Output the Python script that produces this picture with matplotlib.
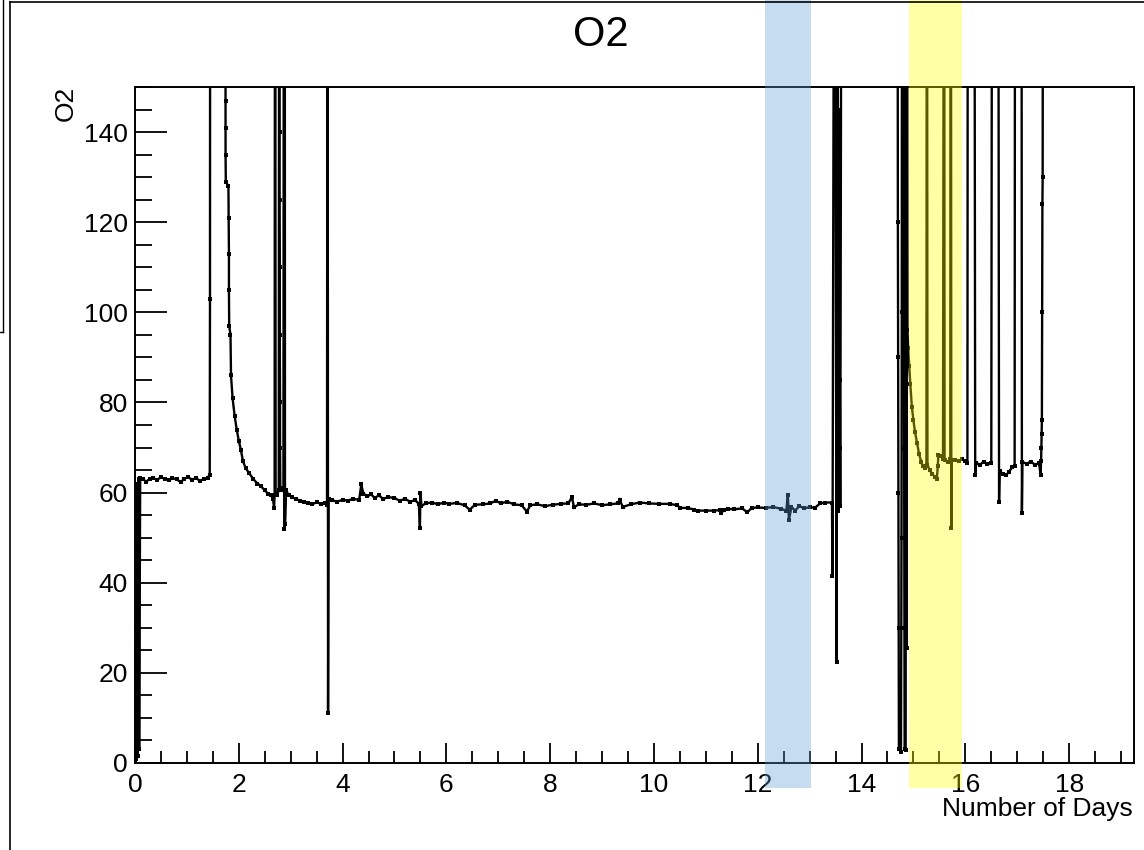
import matplotlib
matplotlib.use("Agg")
import matplotlib.pyplot as plt
from matplotlib.lines import Line2D
from matplotlib.patches import Rectangle
from matplotlib.transforms import blended_transform_factory
from matplotlib.ticker import MultipleLocator

plt.rcParams['font.family'] = ['Liberation Sans', 'DejaVu Sans']

# O2 readings (days since start, O2). Values of 250 are off the top of the scale.
startup = [
    (0.00, 0.5), (0.02, 0.8), (0.04, 62.0), (0.05, 1.5), (0.07, 63.0), (0.08, 3.0),
    (0.10, 63.2), (0.15, 63.0), (0.22, 62.4), (0.28, 63.1), (0.35, 63.3), (0.42, 62.8),
    (0.50, 63.4), (0.58, 63.0), (0.65, 62.7), (0.72, 63.2), (0.80, 63.0), (0.88, 62.3),
    (0.95, 63.1), (1.02, 63.4), (1.10, 62.9), (1.18, 63.2), (1.25, 62.6), (1.32, 63.0),
    (1.40, 63.3), (1.44, 64.0), (1.445, 103.0), (1.45, 250),
]
first_recovery = [
    (1.60, 250), (1.74, 250), (1.745, 147), (1.745, 141), (1.745, 135), (1.75, 129),
    (1.80, 128), (1.805, 121), (1.81, 113), (1.81, 105), (1.815, 97), (1.84, 95),
    (1.85, 86), (1.88, 81), (1.92, 77), (1.96, 74), (2.00, 71.5), (2.04, 69.5),
    (2.08, 67.0), (2.13, 65.5), (2.20, 64.3), (2.28, 63.0), (2.36, 62.0), (2.42, 61.5),
    (2.50, 60.5), (2.56, 59.8), (2.62, 59.5), (2.66, 58.5), (2.68, 56.5), (2.69, 59.5),
    (2.70, 250), (2.71, 60.0), (2.74, 59.5), (2.77, 60.5), (2.78, 250), (2.785, 140),
    (2.785, 125), (2.79, 110), (2.79, 95), (2.795, 80), (2.795, 70), (2.80, 61.0),
    (2.84, 60.5), (2.86, 61.0), (2.87, 250), (2.88, 52.0), (2.885, 250), (2.89, 53.0),
    (2.91, 60.5), (2.96, 59.5), (3.02, 59.0), (3.10, 58.6), (3.18, 58.2), (3.26, 58.0),
    (3.34, 57.6), (3.42, 57.4), (3.50, 57.9), (3.58, 57.5), (3.66, 57.8), (3.70, 57.2),
    (3.71, 250), (3.72, 11.0), (3.73, 58.5),
]
long_run = [
    (3.80, 58.3), (3.90, 58.0), (4.00, 58.4), (4.10, 58.2), (4.20, 58.6), (4.32, 58.4),
    (4.36, 61.8), (4.40, 59.8), (4.48, 59.2), (4.55, 59.6), (4.62, 58.8), (4.70, 59.4),
    (4.78, 58.6), (4.88, 59.0), (5.00, 58.8), (5.10, 58.2), (5.20, 58.6), (5.30, 58.0),
    (5.40, 58.3), (5.47, 57.5), (5.49, 52.2), (5.50, 60.0), (5.52, 57.0), (5.60, 57.6),
    (5.72, 57.8), (5.84, 57.4), (5.95, 57.8), (6.05, 57.5), (6.20, 57.7), (6.35, 57.2),
    (6.45, 56.2), (6.55, 57.3), (6.70, 57.4), (6.85, 57.6), (6.95, 58.2), (7.05, 57.6),
    (7.17, 58.0), (7.30, 57.4), (7.45, 57.2), (7.55, 55.8), (7.62, 57.2), (7.75, 57.4),
    (7.90, 57.0), (8.05, 57.3), (8.20, 57.5), (8.35, 57.6), (8.42, 59.0), (8.46, 56.7),
    (8.55, 57.4), (8.70, 57.3), (8.85, 57.6), (9.00, 57.2), (9.15, 57.4), (9.30, 57.6),
    (9.34, 58.4), (9.40, 56.8), (9.55, 57.4), (9.73, 57.8), (9.90, 57.6), (10.10, 57.5),
    (10.30, 57.5), (10.45, 57.2), (10.50, 56.6), (10.65, 56.6), (10.78, 56.2), (10.85, 56.0),
    (11.00, 56.0), (11.15, 56.0), (11.27, 56.1), (11.30, 55.5), (11.35, 56.2), (11.42, 56.4),
    (11.55, 56.3), (11.70, 56.5), (11.80, 55.6), (11.88, 56.6), (12.00, 56.7), (12.15, 56.6),
    (12.30, 56.8), (12.45, 56.4), (12.55, 56.0), (12.58, 59.5), (12.60, 54.0), (12.65, 56.8),
    (12.72, 56.0), (12.80, 57.0), (12.90, 56.5), (13.00, 56.8), (13.10, 56.6), (13.20, 57.6),
    (13.30, 57.8), (13.43, 57.8),
]
interruption = [
    (13.44, 41.4), (13.48, 250), (13.52, 22.4), (13.53, 250), (13.555, 56.0), (13.56, 145),
    (13.565, 130), (13.57, 115), (13.575, 100), (13.58, 85), (13.585, 70), (13.59, 57.0),
    (13.62, 250), (14.00, 250), (14.50, 250), (14.69, 250), (14.70, 120), (14.705, 90),
    (14.71, 60), (14.715, 30), (14.72, 3.0), (14.76, 2.5), (14.77, 50), (14.775, 100),
    (14.78, 250), (14.81, 250), (14.815, 110), (14.82, 70), (14.825, 30), (14.83, 3.0),
    (14.85, 2.8), (14.86, 250), (14.87, 25.5), (14.875, 250),
]
second_recovery = [
    (14.885, 96.0), (14.90, 92.0), (14.92, 88.0), (14.94, 84.0), (14.97, 79.0), (15.00, 76.0),
    (15.03, 73.5), (15.07, 71.0), (15.11, 68.5), (15.15, 66.8), (15.18, 65.8), (15.22, 65.5),
    (15.25, 66.0), (15.26, 250), (15.27, 66.2), (15.31, 65.0), (15.36, 64.2), (15.41, 63.5),
    (15.45, 63.0), (15.47, 66.0), (15.48, 68.3), (15.53, 68.2), (15.57, 67.5), (15.59, 250),
    (15.60, 67.2), (15.66, 66.8), (15.71, 67.5), (15.72, 250), (15.73, 52.2), (15.74, 67.2),
    (15.80, 67.3), (15.87, 67.0), (15.94, 67.4), (16.00, 67.0), (16.04, 66.5), (16.05, 250),
    (16.17, 250), (16.19, 64.0), (16.21, 66.6), (16.28, 66.2), (16.35, 66.8), (16.42, 66.4),
    (16.50, 66.6), (16.52, 250), (16.63, 250), (16.65, 58.0), (16.66, 64.8), (16.72, 64.2),
    (16.78, 63.8), (16.84, 64.6), (16.90, 65.6), (16.95, 66.0), (16.96, 250), (17.08, 250),
    (17.09, 55.5), (17.10, 66.8), (17.18, 66.4), (17.26, 66.9), (17.34, 66.2), (17.42, 66.5),
    (17.45, 64.0), (17.46, 67.0), (17.465, 70.0), (17.47, 73.0), (17.475, 76.0), (17.48, 100),
    (17.485, 124), (17.49, 130), (17.50, 250),
]

# highlighted day ranges
blue_span = (12.14, 13.02)
yellow_span = (14.91, 15.93)

x_ticks = [0, 2, 4, 6, 8, 10, 12, 14, 16, 18]
y_ticks = [0, 20, 40, 60, 80, 100, 120, 140]

series = startup + first_recovery + long_run + interruption + second_recovery
days = [p[0] for p in series]
o2 = [p[1] for p in series]

W, H = 1144, 850
fig = plt.figure(figsize=(W / 100, H / 100), dpi=100)
ax = fig.add_axes([135 / W, 1 - 763 / H, (1134 - 135) / W, (763 - 87) / H])

ax.plot(days, o2, color='black', lw=1.7, marker='s', ms=2.6, mew=0,
        solid_joinstyle='miter')

ax.set_xlim(0, 19.25)
ax.set_ylim(0, 150)
ax.set_xticks(x_ticks)
ax.set_yticks(y_ticks)
ax.xaxis.set_minor_locator(MultipleLocator(0.5))
ax.yaxis.set_minor_locator(MultipleLocator(5))
ax.tick_params(axis='both', which='both', direction='in', width=1.3,
               top=False, right=False, labelsize=19, colors='black')
ax.tick_params(axis='y', which='major', length=23, pad=5)
ax.tick_params(axis='y', which='minor', length=12)
ax.tick_params(axis='x', which='major', length=14.5, pad=7)
ax.tick_params(axis='x', which='minor', length=8.5)
for s in ax.spines.values():
    s.set_linewidth(1.4)

fig.text(601 / W, 1 - 35 / H, 'O2', ha='center', va='center', fontsize=30)
fig.text(66 / W, 1 - 103 / H, 'O2', rotation=90, ha='center', va='center', fontsize=19)
fig.text(1133 / W, 1 - 809 / H, 'Number of Days', ha='right', va='center', fontsize=19)

# canvas frame
fig.add_artist(Line2D([10 / W, 10 / W], [0, 1 - 2 / H], color='black', lw=1.2))
fig.add_artist(Line2D([10 / W, 1], [1 - 2 / H, 1 - 2 / H], color='black', lw=1.2))
fig.add_artist(Line2D([3 / W, 3 / W], [1, 1 - 332 / H], color='black', lw=1.0))
fig.add_artist(Line2D([0, 3 / W], [1 - 332 / H, 1 - 332 / H], color='black', lw=1.0))

# highlight bands spanning from the top of the canvas to just below the axis
trans = blended_transform_factory(ax.transData, fig.transFigure)
band_bottom = 1 - 788 / H
for (x0, x1), col in [(blue_span, '#5c9bd4'), (yellow_span, '#ffff00')]:
    ax.add_patch(Rectangle((x0, band_bottom), x1 - x0, 1 - band_bottom,
                           transform=trans, facecolor=col, edgecolor='none',
                           alpha=0.35, clip_on=False, zorder=10))

fig.savefig('out.png', dpi=100)
